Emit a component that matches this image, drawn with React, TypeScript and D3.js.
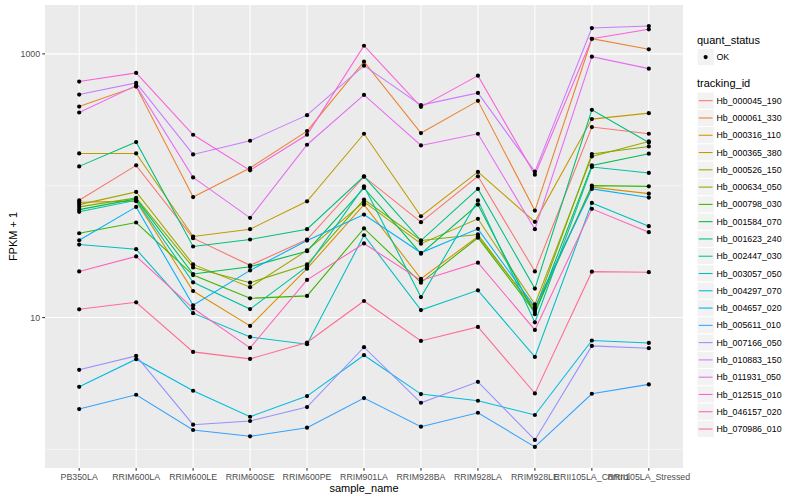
import React, { useEffect, useRef } from 'react';
import * as d3 from 'd3';

const samples = ['PB350LA', 'RRIM600LA', 'RRIM600LE', 'RRIM600SE', 'RRIM600PE', 'RRIM901LA',
    'RRIM928BA', 'RRIM928LA', 'RRIM928LE', 'RRII105LA_Control', 'RRII105LA_Stressed'];

const trackingIds = ['Hb_000045_190', 'Hb_000061_330', 'Hb_000316_110', 'Hb_000365_380', 'Hb_000526_150',
    'Hb_000634_050', 'Hb_000798_030', 'Hb_001584_070', 'Hb_001623_240', 'Hb_002447_030', 'Hb_003057_050',
    'Hb_004297_070', 'Hb_004657_020', 'Hb_005611_010', 'Hb_007166_050', 'Hb_010883_150', 'Hb_011931_050',
    'Hb_012515_010', 'Hb_046157_020', 'Hb_070986_010'];

// ggplot hue palette, 20 levels
const colors = ['#F8766D', '#EA8331', '#D89000', '#C09B00', '#A3A500', '#7CAE00', '#39B600', '#00BB4E',
    '#00BF7D', '#00C1A3', '#00BFC4', '#00BAE0', '#00B0F6', '#35A2FF', '#9590FF', '#C77CFF', '#E76BF3',
    '#FA62DB', '#FF62BC', '#FF6C91'];

// FPKM + 1, one value per sample
const hb_000045_190 = [77.5, 142.7, 40.0, 24.9, 39.1, 117.2, 52.9, 117.8, 22.4, 278.5, 247.8];
const hb_000061_330 = [398.6, 564.7, 82.0, 136.3, 259.7, 873, 250.8, 440.2, 64.8, 1303, 1083];
const hb_000316_110 = [74.9, 76.4, 15.9, 8.64, 23.5, 71.9, 19.7, 41.2, 11.76, 97.6, 87.1];
const hb_000365_380 = [175.8, 175.8, 41.2, 46.8, 76.2, 247.8, 58.7, 127.2, 53.2, 320.1, 355.3];
const hb_000526_150 = [71.9, 89.8, 25.3, 17.0, 32.3, 75.4, 36.3, 56.1, 12.6, 166.9, 216.6];
const hb_000634_050 = [69.1, 80.9, 24.0, 18.4, 25.3, 78.5, 38.4, 42.7, 11.4, 174.0, 198.6];
const hb_000798_030 = [43.6, 52.6, 21.0, 14.0, 14.6, 47.4, 18.4, 40.3, 11.0, 100.2, 98.9];
const hb_001584_070 = [65.9, 79.4, 21.4, 24.3, 31.9, 96.2, 30.5, 71.9, 10.6, 142.7, 174.9];
const hb_001623_240 = [140.2, 214.4, 34.6, 39.1, 46.8, 117.8, 38.4, 94.6, 16.6, 376.3, 213.0];
const hb_002447_030 = [63.4, 77.5, 18.5, 11.6, 24.3, 98.9, 14.3, 77.4, 9.21, 138.7, 125.0];
const hb_003057_050 = [35.8, 33.0, 10.8, 7.13, 6.28, 42.1, 11.4, 16.1, 5.03, 74.1, 49.3];
const hb_004297_070 = [2.985, 4.835, 2.785, 1.770, 2.539, 5.184, 2.629, 2.339, 1.824, 6.699, 6.424];
const hb_004657_020 = [38.6, 69.1, 12.4, 22.8, 38.4, 60.4, 31.0, 47.1, 12.0, 94.6, 81.3];
const hb_005611_010 = [2.024, 2.597, 1.404, 1.258, 1.462, 2.452, 1.487, 1.898, 1.044, 2.643, 3.113];
const hb_007166_050 = [4.014, 5.123, 1.540, 1.643, 2.096, 5.962, 2.259, 3.257, 1.180, 6.098, 5.858];
const hb_010883_150 = [491.2, 602.5, 172.8, 219.3, 343.1, 814.2, 408.5, 506.0, 127.8, 1570, 1626];
const hb_011931_050 = [359.1, 574.5, 115.7, 57.1, 204.6, 488.7, 202.1, 247.8, 46.8, 952.4, 772.7];
const hb_012515_010 = [616.3, 716.9, 243.5, 130.8, 243.5, 1153, 396.5, 684.0, 121.3, 1303, 1535];
const hb_046157_020 = [22.4, 29.1, 11.76, 5.888, 19.3, 36.5, 19.1, 26.1, 8.06, 66.8, 44.4];
const hb_070986_010 = [11.55, 13.05, 5.493, 4.861, 6.470, 13.36, 6.653, 8.49, 2.661, 22.3, 22.1];

const fpkm = [hb_000045_190, hb_000061_330, hb_000316_110, hb_000365_380, hb_000526_150, hb_000634_050,
    hb_000798_030, hb_001584_070, hb_001623_240, hb_002447_030, hb_003057_050, hb_004297_070,
    hb_004657_020, hb_005611_010, hb_007166_050, hb_010883_150, hb_011931_050, hb_012515_010,
    hb_046157_020, hb_070986_010];

const majorBreaks = [10, 1000];
const minorBreaks = [1, 100];

const width = 800;
const height = 500;

const App: React.FC = () => {
    const svgRef = useRef<SVGSVGElement>(null);

    useEffect(() => {
        if (!svgRef.current) return;
        const svg = d3.select(svgRef.current);
        svg.selectAll('*').remove();

        const panel = { left: 45, right: 683, top: 5, bottom: 468 };
        const font = '"Liberation Sans", Arial, sans-serif';

        const all = fpkm.flat();
        const lmin = Math.log10(d3.min(all) as number);
        const lmax = Math.log10(d3.max(all) as number);
        const pad = (lmax - lmin) * 0.05;

        const xScale = d3.scalePoint<string>()
            .domain(samples)
            .range([panel.left, panel.right])
            .padding(0.6);

        const yScale = d3.scaleLog()
            .domain([Math.pow(10, lmin - pad), Math.pow(10, lmax + pad)])
            .range([panel.bottom, panel.top]);

        svg.append('rect')
            .attr('width', width).attr('height', height).attr('fill', 'white');

        svg.append('rect')
            .attr('x', panel.left).attr('y', panel.top)
            .attr('width', panel.right - panel.left).attr('height', panel.bottom - panel.top)
            .attr('fill', '#EBEBEB');

        // grid
        svg.append('g').selectAll('line').data(minorBreaks).join('line')
            .attr('x1', panel.left).attr('x2', panel.right)
            .attr('y1', d => yScale(d)).attr('y2', d => yScale(d))
            .attr('stroke', 'white').attr('stroke-width', 0.53);

        svg.append('g').selectAll('line').data(majorBreaks).join('line')
            .attr('x1', panel.left).attr('x2', panel.right)
            .attr('y1', d => yScale(d)).attr('y2', d => yScale(d))
            .attr('stroke', 'white').attr('stroke-width', 1.07);

        svg.append('g').selectAll('line').data(samples).join('line')
            .attr('x1', d => xScale(d)!).attr('x2', d => xScale(d)!)
            .attr('y1', panel.top).attr('y2', panel.bottom)
            .attr('stroke', 'white').attr('stroke-width', 1.07);

        // lines
        const line = d3.line<number>()
            .x((d, i) => xScale(samples[i])!)
            .y(d => yScale(d));

        svg.append('g').selectAll('path').data(fpkm).join('path')
            .attr('fill', 'none')
            .attr('stroke', (d, i) => colors[i])
            .attr('stroke-width', 1.07)
            .attr('d', d => line(d));

        // points
        const pts = fpkm.flatMap(s => s.map((v, i) => ({ s: samples[i], v })));
        svg.append('g').selectAll('circle').data(pts).join('circle')
            .attr('cx', d => xScale(d.s)!)
            .attr('cy', d => yScale(d.v))
            .attr('r', 2.1)
            .attr('fill', 'black');

        // axes
        const yAxis = svg.append('g');
        yAxis.selectAll('line').data(majorBreaks).join('line')
            .attr('x1', panel.left - 2.74).attr('x2', panel.left)
            .attr('y1', d => yScale(d)).attr('y2', d => yScale(d))
            .attr('stroke', '#333333').attr('stroke-width', 1.07);
        yAxis.selectAll('text').data(majorBreaks).join('text')
            .attr('x', panel.left - 4.9)
            .attr('y', d => yScale(d) + 3.1)
            .attr('text-anchor', 'end')
            .attr('font-family', font).attr('font-size', 8.8).attr('fill', '#4D4D4D')
            .text(d => String(d));

        const xAxis = svg.append('g');
        xAxis.selectAll('line').data(samples).join('line')
            .attr('x1', d => xScale(d)!).attr('x2', d => xScale(d)!)
            .attr('y1', panel.bottom).attr('y2', panel.bottom + 2.74)
            .attr('stroke', '#333333').attr('stroke-width', 1.07);
        xAxis.selectAll('text').data(samples).join('text')
            .attr('x', d => xScale(d)!)
            .attr('y', panel.bottom + 12)
            .attr('text-anchor', 'middle')
            .attr('font-family', font).attr('font-size', 8.8).attr('fill', '#4D4D4D')
            .text(d => d);

        svg.append('text')
            .attr('x', (panel.left + panel.right) / 2).attr('y', 491.5)
            .attr('text-anchor', 'middle')
            .attr('font-family', font).attr('font-size', 11).attr('fill', 'black')
            .text('sample_name');

        svg.append('text')
            .attr('transform', `translate(16.5, ${(panel.top + panel.bottom) / 2}) rotate(-90)`)
            .attr('text-anchor', 'middle')
            .attr('font-family', font).attr('font-size', 11).attr('fill', 'black')
            .text('FPKM + 1');

        // legends
        const lx = 697;
        const keySize = 17.28;
        const legend = svg.append('g').attr('font-family', font);

        legend.append('text').attr('x', lx).attr('y', 43.5)
            .attr('font-size', 11).attr('fill', 'black').text('quant_status');
        legend.append('rect').attr('x', lx).attr('y', 57.1 - keySize / 2)
            .attr('width', keySize).attr('height', keySize)
            .attr('fill', '#F2F2F2').attr('stroke', 'white');
        legend.append('circle').attr('cx', lx + keySize / 2).attr('cy', 57.1)
            .attr('r', 2.1).attr('fill', 'black');
        legend.append('text').attr('x', lx + keySize + 2.2).attr('y', 57.1 + 3.1)
            .attr('font-size', 8.8).attr('fill', 'black').text('OK');

        legend.append('text').attr('x', lx).attr('y', 87)
            .attr('font-size', 11).attr('fill', 'black').text('tracking_id');

        const keyY = (i: number) => 100.7 + keySize * i;
        const keys = legend.append('g').selectAll('g').data(trackingIds).join('g');
        keys.append('rect')
            .attr('x', lx).attr('y', (d, i) => keyY(i) - keySize / 2)
            .attr('width', keySize).attr('height', keySize)
            .attr('fill', '#F2F2F2').attr('stroke', 'white');
        keys.append('line')
            .attr('x1', lx + 1.7).attr('x2', lx + keySize - 1.7)
            .attr('y1', (d, i) => keyY(i)).attr('y2', (d, i) => keyY(i))
            .attr('stroke', (d, i) => colors[i]).attr('stroke-width', 1.07);
        keys.append('text')
            .attr('x', lx + keySize + 2.2).attr('y', (d, i) => keyY(i) + 3.1)
            .attr('font-size', 8.8).attr('fill', 'black')
            .text(d => d);
    }, []);

    return (
        <svg ref={svgRef} width={width} height={height}
            style={{ position: 'absolute', left: 0, top: 0 }}></svg>
    );
};

export default App;
